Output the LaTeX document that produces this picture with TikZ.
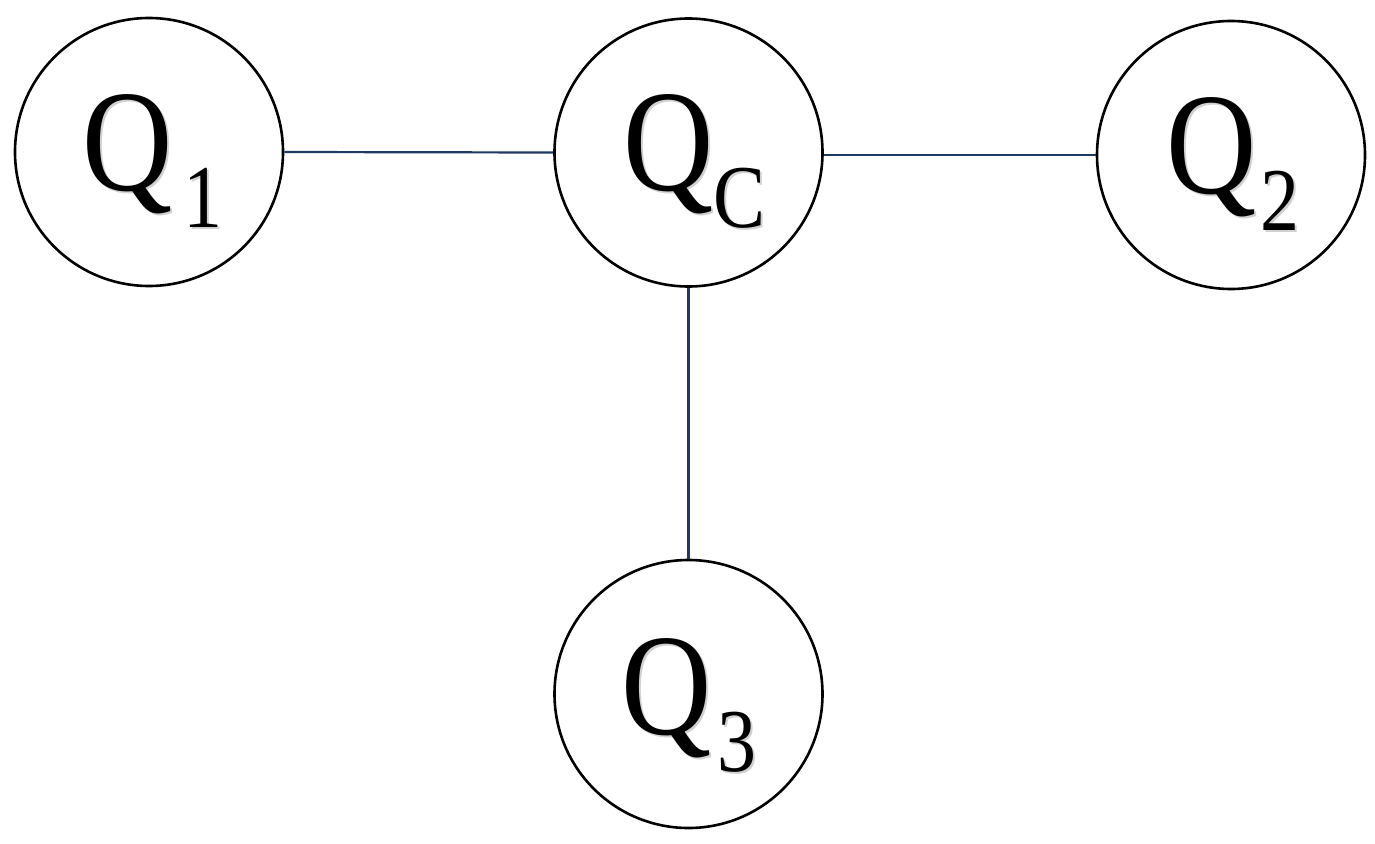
\documentclass[tikz,border=0pt]{standalone}
\usepackage{fontspec}
\setmainfont{Liberation Serif}
\newfontfamily\qfont{Liberation Serif}
\definecolor{linknavy}{HTML}{203864}
\newcommand{\qbig}{\scalebox{1}[1.16]{\qfont\fontsize{125}{130}\selectfont Q}}
\newcommand{\qsub}[2]{\kern#1pt\raisebox{-37pt}{\scalebox{1}[1.15]{\qfont\fontsize{78}{80}\selectfont #2}}}
\tikzset{
  qnode/.style={circle,draw=black,line width=2.6pt,minimum size=268pt,inner sep=0pt},
  qlabel/.style={anchor=base west,inner sep=0pt,outer sep=0pt,text=black,font=\qfont},
  qshadow/.style={anchor=base west,inner sep=0pt,outer sep=0pt,text=black!18,font=\qfont},
  link/.style={draw=linknavy,line width=2.2pt}
}
\begin{document}
\begin{tikzpicture}[x=1pt,y=-1pt]
\useasboundingbox (0,0) rectangle (1375,843);
% circles
\node[qnode] (c1) at (149,152) {};
\node[qnode] (cc) at (688.5,152.5) {};
\node[qnode] (c2) at (1231,155) {};
\node[qnode] (c3) at (688.5,694) {};
% connectors
\draw[link] (c1.east) -- (cc.west);
\draw[link] (c2.west) -- (c2.west -| cc.east);
\draw[link] (cc.south) -- (c3.north);
% label shadows
\node[qshadow] (s1) at (84,192) {\qbig\qsub{11}{1}};
\node[qshadow] (sc) at (625,192) {\qbig\qsub{0}{C}};
\node[qshadow] (s2) at (1168,195) {\qbig\qsub{4}{2}};
\node[qshadow] (s3) at (623,736) {\qbig\qsub{6}{3}};
% labels
\node[qlabel] (t1) at (82,190) {\qbig\qsub{11}{1}};
\node[qlabel] (tc) at (623,190) {\qbig\qsub{0}{C}};
\node[qlabel] (t2) at (1166,193) {\qbig\qsub{4}{2}};
\node[qlabel] (t3) at (621,734) {\qbig\qsub{6}{3}};
\end{tikzpicture}
\end{document}
